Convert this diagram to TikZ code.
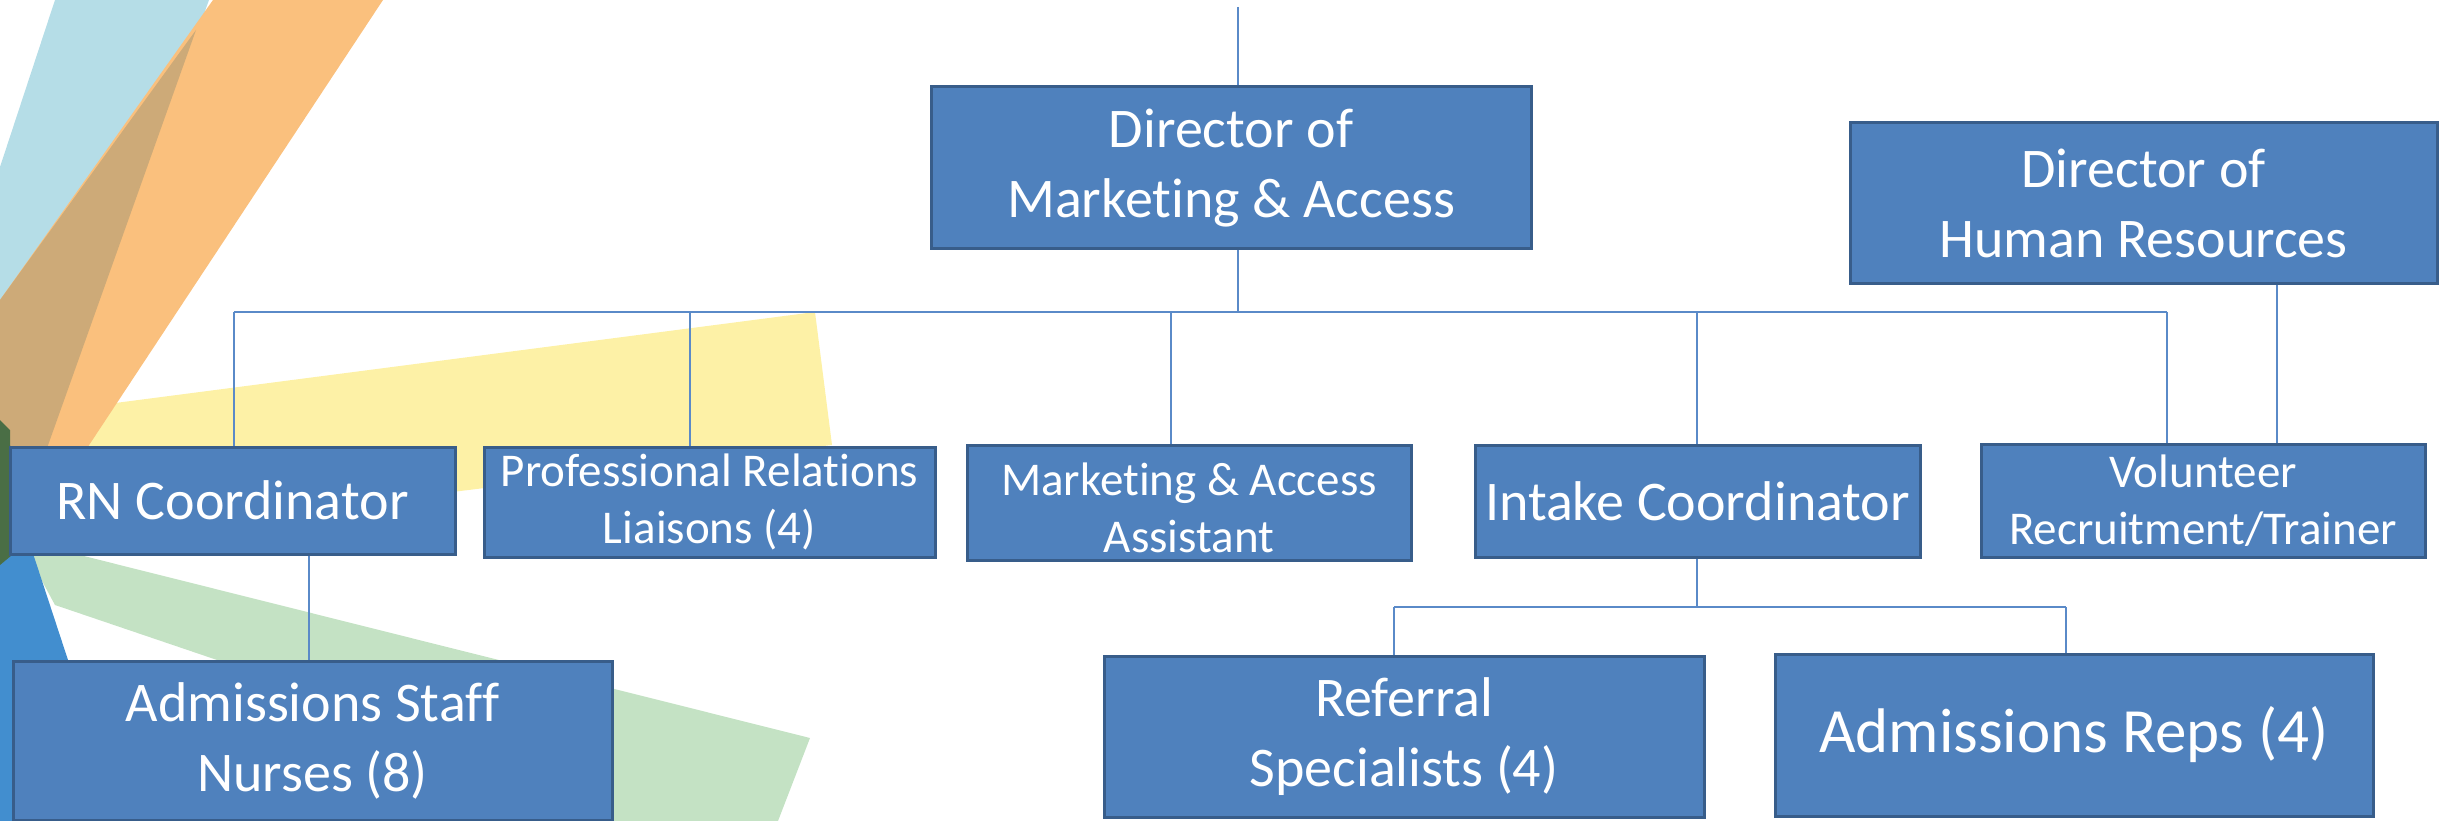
\documentclass[tikz,border=0pt]{standalone}
\usepackage{fontspec}
\setmainfont[Ligatures=NoCommon]{Carlito}
\usetikzlibrary{calc}
\definecolor{boxfill}{HTML}{4F81BD}
\definecolor{boxedge}{HTML}{385D8A}
\definecolor{linkblue}{HTML}{5A8AC8}
\definecolor{bandsky}{HTML}{B5DDE7}
\definecolor{bandorange}{HTML}{FAC07D}
\definecolor{bandtan}{HTML}{CDAA78}
\definecolor{bandyellow}{HTML}{FDF1A6}
\definecolor{bandgreen}{HTML}{C4E2C4}
\definecolor{bandblue}{HTML}{428ECF}
\definecolor{bandolive}{HTML}{4A6E45}
\newcommand\bigtext{\fontsize{16.8}{21}\selectfont}
\newcommand\smalltext{\fontsize{14.1}{17.2}\selectfont}
\newcommand\repstext{\fontsize{18.9}{23}\selectfont}
\begin{document}
\begin{tikzpicture}[x=0.3pt,y=-0.3pt,
  boxsize/.style 2 args={minimum width=#1*0.3pt, minimum height=#2*0.3pt},
  orgbox/.style={draw=boxedge, fill=boxfill, line width=0.9pt, text=white,
    align=center, inner sep=0pt, font=\bigtext},
  smallbox/.style={orgbox, font=\smalltext},
  repsbox/.style={orgbox, font=\repstext},
  link/.style={draw=linkblue, line width=0.4pt}]
\useasboundingbox (0,0) rectangle (2440,821);

% decorative colour bands on the left
\begin{scope}
  \clip (0,0) rectangle (2440,821);
  \fill[bandyellow] (0,418) -- (815,312) -- (832,445) -- (0,548) -- cycle;
  \fill[bandgreen] (20,540) -- (810,738) -- (778,821) -- (400,821) -- (220,661) -- (55,605) -- cycle;
  \fill[bandsky] (55,0) -- (209,0) -- (0,580) -- (0,167) -- cycle;
  \fill[bandorange] (213,0) -- (383,0) -- (0,580) -- (0,300) -- cycle;
  \fill[bandtan] (196,30) -- (0,580) -- (0,300) -- cycle;
  \fill[bandblue] (0,520) -- (22,520) -- (68,660) -- (78,821) -- (0,821) -- cycle;
  \fill[bandolive] (0,420) -- (10,430) -- (12,555) -- (0,565) -- cycle;
\end{scope}

% boxes
\node[orgbox, boxsize={600}{162}] (dma) at (1231,168) {Director of\\Marketing \& Access};
\node[orgbox, boxsize={587}{161}] (hr) at (2143.5,203) {Director of\\Human Resources};
\node[orgbox, boxsize={445}{107}] (rn) at (232.5,500.5) {RN Coordinator};
\node[smallbox, boxsize={451}{110}] (prl) at (709.5,502) {Professional Relations\\Liaisons (4)};
\node[smallbox, boxsize={444}{112}] (maa) at (1189,503) {\raisebox{-2.8pt}[\height][\depth]{\begin{tabular}{@{}c@{}}Marketing \& Access\\Assistant\end{tabular}}};
\node[orgbox, boxsize={445}{112}] (intake) at (1697.5,501) {Intake Coordinator};
\node[smallbox, boxsize={444}{113}] (vol) at (2203,500.5) {Volunteer\\Recruitment/Trainer};
\node[orgbox, boxsize={599}{159}] (asn) at (312.5,740.5) {Admissions Staff\\Nurses (8)};
\node[orgbox, boxsize={600}{161}] (ref) at (1404,736.5) {Referral\\Specialists (4)};
\node[repsbox, boxsize={598}{162}] (reps) at (2074,735) {Admissions Reps (4)};

% connectors
\coordinate (topend) at (1238,7);
\coordinate (busC) at (1238,312);
\coordinate (busL) at (234,312);
\coordinate (busR) at (2167,312);
\coordinate (tapPRL) at (690,312);
\coordinate (tapMAA) at (1171,312);
\coordinate (tapIC) at (1697,312);
\coordinate (hrX) at (2277,300);
\coordinate (rnX) at (309,600);
\coordinate (subC) at (1697,607);
\coordinate (subL) at (1394,607);
\coordinate (subR) at (2066,607);

\draw[link] (topend) -- (topend |- dma.north);
\draw[link] (busC |- dma.south) -- (busC);
\draw[link] (busL) -- (busR);
\draw[link] (busL) -- (busL |- rn.north);
\draw[link] (tapPRL) -- (tapPRL |- prl.north);
\draw[link] (tapMAA) -- (tapMAA |- maa.north);
\draw[link] (tapIC) -- (tapIC |- intake.north);
\draw[link] (busR) -- (busR |- vol.north);
\draw[link] (hrX |- hr.south) -- (hrX |- vol.north);
\draw[link] (rnX |- rn.south) -- (rnX |- asn.north);
\draw[link] (subC |- intake.south) -- (subC);
\draw[link] (subL) -- (subR);
\draw[link] (subL) -- (subL |- ref.north);
\draw[link] (subR) -- (subR |- reps.north);
\end{tikzpicture}
\end{document}
